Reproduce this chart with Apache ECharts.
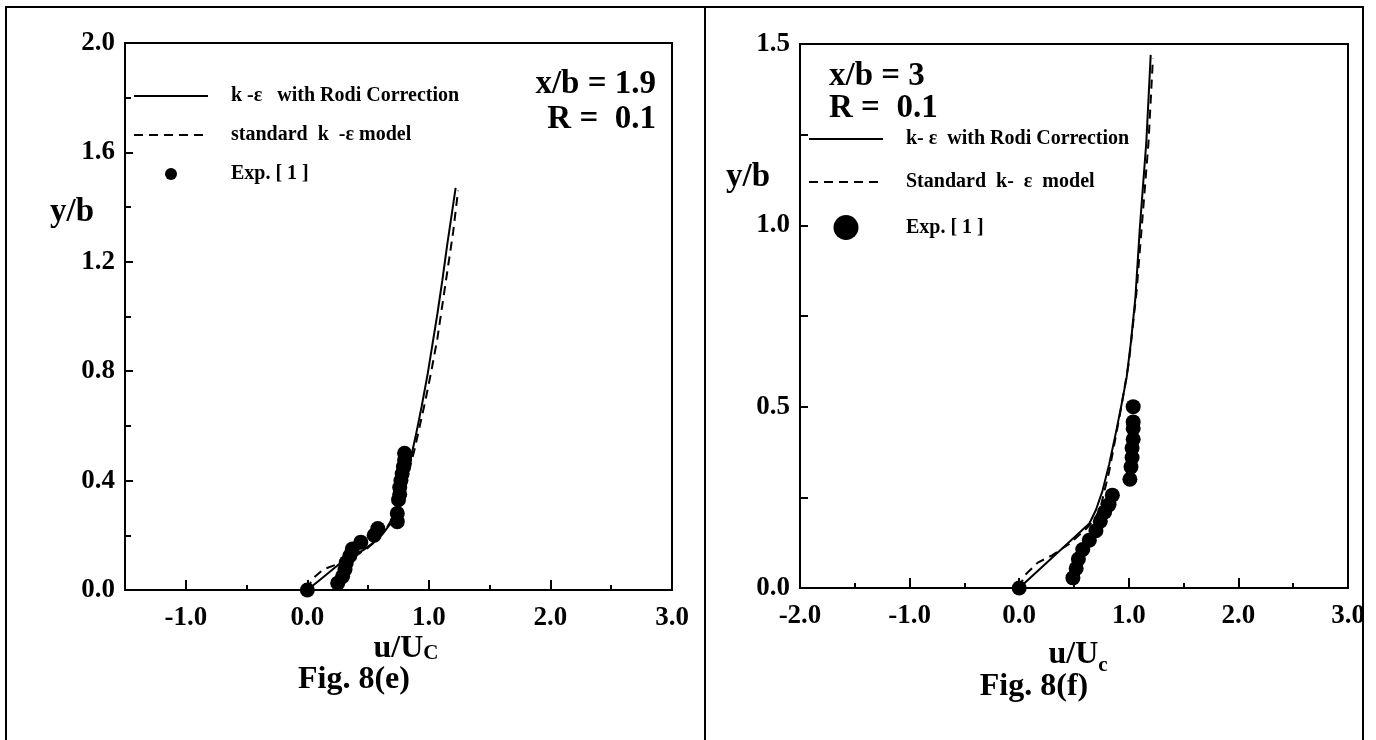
<!DOCTYPE html>
<html>
<head>
<meta charset="utf-8">
<script src="https://cdn.jsdelivr.net/npm/echarts@6/dist/echarts.min.js"></script>
<style>
html, body { margin: 0; padding: 0; background: #fff; }
#main { width: 1376px; height: 740px; }
</style>
</head>
<body>
<div id="main"></div>
<script>
// Fig. 8(e)  x/b = 1.9, R = 0.1
const leftRodiX = [0, 0.10, 0.20, 0.27, 0.36, 0.46, 0.55, 0.62, 0.68, 0.73, 0.77, 0.81, 0.85, 0.89, 0.94, 0.99, 1.03, 1.07, 1.11, 1.15, 1.19, 1.22];
const leftRodiY = [0, 0.036, 0.072, 0.098, 0.122, 0.146, 0.175, 0.205, 0.24, 0.285, 0.34, 0.41, 0.48, 0.56, 0.67, 0.79, 0.90, 1.01, 1.13, 1.26, 1.38, 1.47];
const leftStdX = [0, 0.04, 0.13, 0.22, 0.30, 0.40, 0.50, 0.58, 0.65, 0.71, 0.76, 0.80, 0.84, 0.88, 0.92, 0.97, 1.02, 1.07, 1.11, 1.15, 1.20, 1.24];
const leftStdY = [0, 0.04, 0.075, 0.09, 0.10, 0.125, 0.155, 0.185, 0.225, 0.27, 0.32, 0.38, 0.44, 0.51, 0.59, 0.69, 0.80, 0.92, 1.04, 1.16, 1.31, 1.46];
const leftExpX = [0.00, 0.25, 0.29, 0.31, 0.32, 0.35, 0.37, 0.44, 0.55, 0.58, 0.74, 0.74, 0.75, 0.76, 0.76, 0.77, 0.78, 0.79, 0.80, 0.80];
const leftExpY = [0.00, 0.025, 0.05, 0.075, 0.10, 0.125, 0.15, 0.175, 0.20, 0.225, 0.25, 0.28, 0.33, 0.35, 0.375, 0.40, 0.425, 0.45, 0.475, 0.50];

// Fig. 8(f)  x/b = 3, R = 0.1
const rightRodiX = [0, 0.32, 0.64, 0.70, 0.76, 0.82, 0.88, 0.93, 0.98, 1.02, 1.06, 1.10, 1.13, 1.16, 1.20];
const rightRodiY = [0, 0.089, 0.178, 0.215, 0.268, 0.34, 0.425, 0.50, 0.58, 0.68, 0.80, 0.99, 1.11, 1.23, 1.47];
const rightStdX = [0, 0.05, 0.17, 0.30, 0.45, 0.60, 0.68, 0.74, 0.82, 0.92, 1.00, 1.07, 1.13, 1.18, 1.22];
const rightStdY = [0, 0.035, 0.07, 0.09, 0.12, 0.16, 0.185, 0.22, 0.32, 0.48, 0.62, 0.815, 1.04, 1.23, 1.46];
const rightExpX = [0.00, 0.49, 0.52, 0.54, 0.58, 0.64, 0.70, 0.74, 0.78, 0.82, 0.85, 1.01, 1.02, 1.03, 1.03, 1.04, 1.04, 1.04, 1.04];
const rightExpY = [0.00, 0.028, 0.054, 0.08, 0.106, 0.132, 0.158, 0.184, 0.21, 0.23, 0.256, 0.30, 0.334, 0.36, 0.386, 0.41, 0.44, 0.458, 0.50];

// 刻度
const leftXLabels = [-1, 0, 1, 2, 3];
const leftXHalfTicks = [-1.5, -0.5, 0.5, 1.5, 2.5];

// 图例名称
const leftNames = ['k -\u03b5   with Rodi Correction', 'standard  k  -\u03b5 model', 'Exp. [ 1 ]'];
const rightNames = ['k- \u03b5  with Rodi Correction', 'Standard  k-  \u03b5  model', 'Exp. [ 1 ]'];

const FONT = 'Liberation Serif';
const pairs = (xs, ys) => xs.map((x, i) => [x, ys[i]]);

const chart = echarts.init(document.getElementById('main'));

const tickLabel = {
    color: '#000',
    fontFamily: FONT,
    fontWeight: 'bold',
    fontSize: 27
};
const black2 = { color: '#000', width: 2 };

function lineSeries(name, xi, yi, xs, ys, dashed) {
    return {
        name: name,
        type: 'line',
        xAxisIndex: xi,
        yAxisIndex: yi,
        data: pairs(xs, ys),
        symbol: 'none',
        lineStyle: { color: '#000', width: 2, type: dashed ? [9, 6] : 'solid' },
        itemStyle: { color: '#000' },
        z: 3
    };
}

function expSeries(name, xi, yi, xs, ys) {
    return {
        name: name,
        type: 'scatter',
        xAxisIndex: xi,
        yAxisIndex: yi,
        data: pairs(xs, ys),
        symbol: 'circle',
        symbolSize: 15,
        itemStyle: { color: '#000', opacity: 1 },
        z: 2
    };
}

// 线条图例不画圆点
function legendOf(names, left, top, itemHeight, gap) {
    const noDot = { color: 'rgba(0,0,0,0)', borderColor: 'rgba(0,0,0,0)', borderWidth: 0 };
    return {
        orient: 'vertical',
        left: left,
        top: top,
        padding: 0,
        itemWidth: 74,
        itemHeight: itemHeight,
        itemGap: gap,
        selectedMode: false,
        data: [
            { name: names[0], itemStyle: noDot },
            { name: names[1], itemStyle: noDot },
            { name: names[2], itemStyle: { color: '#000', opacity: 1 } }
        ],
        formatter: '{t|{name}}',
        textStyle: {
            rich: {
                t: { color: '#000', fontFamily: FONT, fontWeight: 'bold', fontSize: 20, padding: [0, 0, 0, 18] }
            }
        }
    };
}

function text(str, x, y, size, align) {
    return {
        type: 'text',
        x: x,
        y: y,
        style: {
            text: str,
            fill: '#000',
            font: 'bold ' + size + 'px "' + FONT + '"',
            textAlign: align || 'center',
            textVerticalAlign: 'middle'
        }
    };
}

function axisTitle(main, sub, x, y, subPad) {
    return {
        type: 'text',
        x: x,
        y: y,
        style: {
            text: '{a|' + main + '}{b|' + sub + '}',
            textAlign: 'center',
            textVerticalAlign: 'middle',
            rich: {
                a: { fill: '#000', fontFamily: FONT, fontWeight: 'bold', fontSize: 32, verticalAlign: 'bottom' },
                b: { fill: '#000', fontFamily: FONT, fontWeight: 'bold', fontSize: 21, verticalAlign: 'bottom', padding: subPad }
            }
        }
    };
}

const option = {
    backgroundColor: '#fff',
    animation: false,
    grid: [
        { left: 125, top: 43, width: 547, height: 547, show: true, borderColor: '#000', borderWidth: 2, containLabel: false },
        { left: 800, top: 44, width: 548, height: 544, show: true, borderColor: '#000', borderWidth: 2, containLabel: false }
    ],
    xAxis: [
        {
            gridIndex: 0, type: 'value', min: -1.5, max: 3, interval: 0.5,
            splitLine: { show: false },
            axisLine: { onZero: false, lineStyle: black2 },
            axisTick: { inside: true, length: 10, customValues: leftXLabels, lineStyle: black2 },
            axisLabel: Object.assign({ margin: 15, customValues: leftXLabels, formatter: v => v.toFixed(1) }, tickLabel)
        },
        {
            gridIndex: 0, type: 'value', min: -1.5, max: 3, interval: 0.5, position: 'bottom',
            splitLine: { show: false },
            axisLine: { show: false },
            axisTick: { inside: true, length: 5, customValues: leftXHalfTicks, lineStyle: black2 },
            axisLabel: { show: false }
        },
        {
            gridIndex: 1, type: 'value', min: -2, max: 3, interval: 1,
            splitLine: { show: false },
            axisLine: { onZero: false, lineStyle: black2 },
            axisTick: { inside: true, length: 10, lineStyle: black2 },
            minorTick: { show: true, splitNumber: 2, length: 5, lineStyle: black2 },
            axisLabel: Object.assign({ margin: 15, formatter: v => v.toFixed(1) }, tickLabel)
        }
    ],
    yAxis: [
        {
            gridIndex: 0, type: 'value', min: 0, max: 2, interval: 0.4,
            splitLine: { show: false },
            axisLine: { onZero: false, lineStyle: black2 },
            axisTick: { inside: true, length: 8, lineStyle: black2 },
            minorTick: { show: true, splitNumber: 2, length: 6, lineStyle: black2 },
            axisLabel: Object.assign({ margin: 10, formatter: v => v.toFixed(1) }, tickLabel)
        },
        {
            gridIndex: 1, type: 'value', min: 0, max: 1.5, interval: 0.5,
            splitLine: { show: false },
            axisLine: { onZero: false, lineStyle: black2 },
            axisTick: { inside: true, length: 8, lineStyle: black2 },
            minorTick: { show: true, splitNumber: 2, length: 8, lineStyle: black2 },
            axisLabel: Object.assign({ margin: 10, formatter: v => v.toFixed(1) }, tickLabel)
        }
    ],
    legend: [
        legendOf(leftNames, 133, 86, 12, 19),
        legendOf(rightNames, 808, 129, 25, 23)
    ],
    series: [
        lineSeries(leftNames[0], 0, 0, leftRodiX, leftRodiY, false),
        lineSeries(leftNames[1], 0, 0, leftStdX, leftStdY, true),
        expSeries(leftNames[2], 0, 0, leftExpX, leftExpY),
        lineSeries(rightNames[0], 2, 1, rightRodiX, rightRodiY, false),
        lineSeries(rightNames[1], 2, 1, rightStdX, rightStdY, true),
        expSeries(rightNames[2], 2, 1, rightExpX, rightExpY)
    ],
    graphic: [
        // 外框
        { type: 'rect', shape: { x: 6, y: 7, width: 1357, height: 760 }, style: { fill: 'none', stroke: '#000', lineWidth: 2 }, z: 10 },
        { type: 'line', shape: { x1: 705, y1: 7, x2: 705, y2: 740 }, style: { stroke: '#000', lineWidth: 2 }, z: 10 },
        text('x/b = 1.9', 656, 84, 33, 'right'),
        text('R =  0.1', 656, 119, 33, 'right'),
        text('x/b = 3', 829, 76, 33, 'left'),
        text('R =  0.1', 829, 108, 33, 'left'),
        text('y/b', 72, 212, 33),
        text('y/b', 748, 177, 33),
        axisTitle('u/U', 'C', 406, 649, [0, 0, 1, 0]),
        axisTitle('u/U', 'c', 1078, 655, [0, 0, -5, 0]),
        text('Fig. 8(e)', 354, 680, 32),
        text('Fig. 8(f)', 1034, 687, 32)
    ]
};

chart.setOption(option);
</script>
</body>
</html>
